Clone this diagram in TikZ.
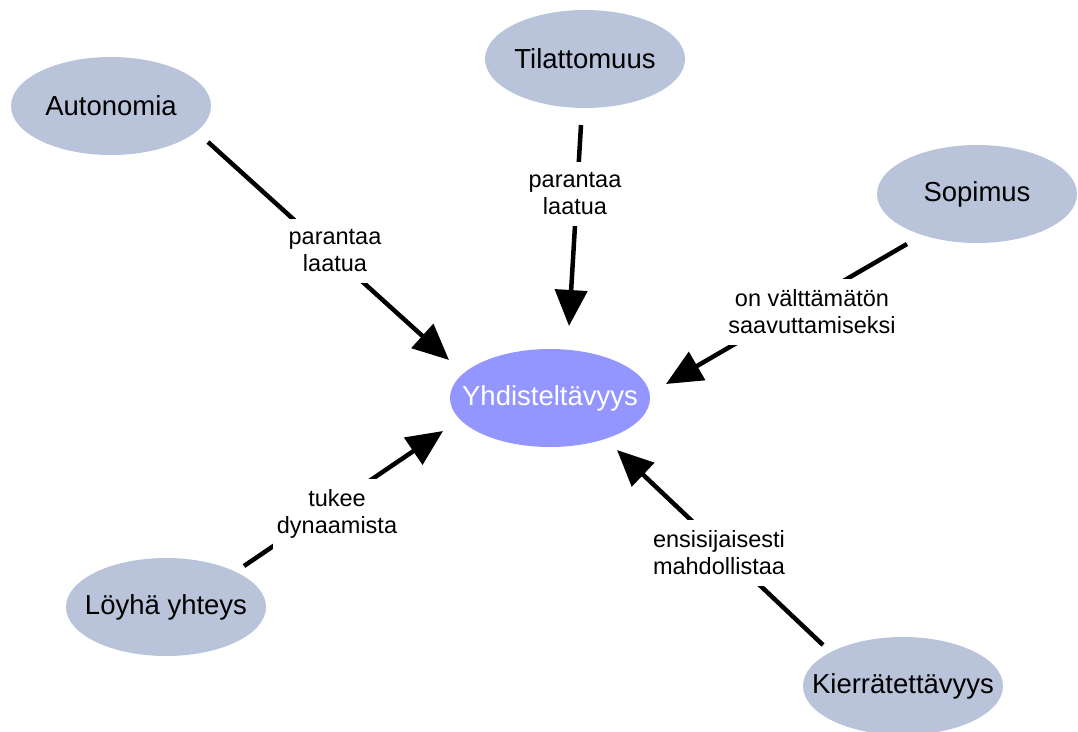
\documentclass[tikz,border=0pt]{standalone}
\usepackage{fontspec}
\setmainfont{Liberation Sans}
\usetikzlibrary{arrows.meta,shapes.geometric}
\definecolor{conceptfill}{RGB}{185,196,218}
\definecolor{focusfill}{RGB}{148,150,255}
% zero-width text so that every ellipse keeps the same fixed size
\newcommand{\ctext}[1]{\makebox[0pt]{#1}}
\begin{document}
\begin{tikzpicture}[x=1pt,y=-1pt,
  concept/.style={ellipse, fill=conceptfill, minimum width=200pt, minimum height=98pt,
    inner sep=0pt, font=\fontsize{27.5}{32}\selectfont},
  focus/.style={concept, fill=focusfill, text=white},
  link/.style={line width=4.5pt, -{Triangle[length=36pt,width=32pt]}},
  linklabel/.style={fill=white, align=center, inner xsep=4pt, inner ysep=11pt,
    font=\fontsize{23.5}{27}\selectfont}]
\useasboundingbox (0,0) rectangle (1078,731);

% concepts
\node[focus]   (yhd) at (550,398) {\ctext{Yhdisteltävyys}};
\node[concept] (aut) at (111,106) {\ctext{Autonomia}};
\node[concept] (til) at (585,59)  {\ctext{Tilattomuus}};
\node[concept] (sop) at (977,194) {\ctext{Sopimus}};
\node[concept] (loy) at (166,607) {\ctext{Löyhä yhteys}};
\node[concept] (kie) at (903,686) {\ctext{Kierrätettävyys}};

% connector ends
\coordinate (aut-s) at (208,142); \coordinate (aut-e) at (449,360);
\coordinate (til-s) at (581,125); \coordinate (til-e) at (569,326);
\coordinate (sop-s) at (907,244); \coordinate (sop-e) at (666,384);
\coordinate (loy-s) at (244,566); \coordinate (loy-e) at (443,431);
\coordinate (kie-s) at (823,645); \coordinate (kie-e) at (617,450);

% connectors
\draw[link] (aut-s) -- (aut-e);
\draw[link] (til-s) -- (til-e);
\draw[link] (sop-s) -- (sop-e);
\draw[link] (loy-s) -- (loy-e);
\draw[link] (kie-s) -- (kie-e);

% connector labels
\node[linklabel] (l-aut) at (335,251) {parantaa\\laatua};
\node[linklabel] (l-til) at (575,194) {parantaa\\laatua};
\node[linklabel] (l-sop) at (812,312) {on välttämätön\\saavuttamiseksi};
\node[linklabel] (l-loy) at (337,514) {tukee\\dynaamista};
\node[linklabel] (l-kie) at (719,553) {ensisijaisesti\\mahdollistaa};
\end{tikzpicture}
\end{document}
